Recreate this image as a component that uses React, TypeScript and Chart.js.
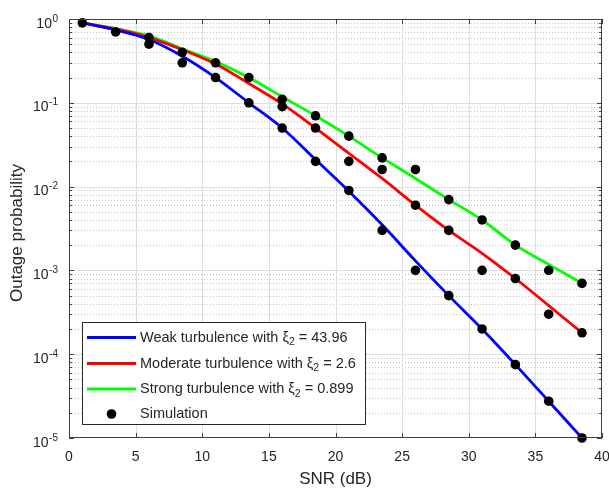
import React, { useEffect, useRef } from "react";
import { Chart, registerables } from "chart.js";

Chart.register(...registerables);

const snr = [1, 3.5, 6, 8.5, 11, 13.5, 16, 18.5, 21, 23.5, 26, 28.5, 31, 33.5, 36, 38.5];
const weak = [0.9, 0.74, 0.57, 0.36, 0.2, 0.1, 0.05, 0.021, 0.0088, 0.0035, 0.0013, 0.0005, 0.0002, 0.000075, 0.0000275, 0.00001];
const moderate = [0.9, 0.76, 0.6, 0.43, 0.29, 0.17, 0.097, 0.05, 0.025, 0.0125, 0.006, 0.003, 0.0016, 0.0008, 0.00038, 0.00018];
const strong = [0.9, 0.77, 0.63, 0.44, 0.31, 0.2, 0.118, 0.07, 0.04, 0.022, 0.0125, 0.007, 0.004, 0.002, 0.00118, 0.0007];

const simX = [1, 3.5, 6, 6, 8.5, 8.5, 11, 11, 13.5, 13.5, 16, 16, 16, 18.5, 18.5, 18.5, 21, 21, 21, 23.5, 23.5, 23.5, 26, 26, 26, 28.5, 28.5, 28.5, 31, 31, 31, 33.5, 33.5, 33.5, 36, 36, 36, 38.5, 38.5, 38.5];
const simY = [0.9, 0.7, 0.6, 0.5, 0.4, 0.3, 0.3, 0.2, 0.2, 0.1, 0.11, 0.09, 0.05, 0.07, 0.05, 0.02, 0.04, 0.02, 0.009, 0.022, 0.016, 0.003, 0.016, 0.006, 0.001, 0.007, 0.003, 0.0005, 0.004, 0.001, 0.0002, 0.002, 0.0008, 0.000075, 0.001, 0.0003, 0.0000275, 0.0007, 0.00018, 0.00001];

const labels = [
  "Weak turbulence with ξ₂ = 43.96",
  "Moderate turbulence with ξ₂ = 2.6",
  "Strong turbulence with ξ₂ = 0.899",
  "Simulation",
];
const xTicks = [0, 5, 10, 15, 20, 25, 30, 35, 40];
const yDecades = [0, -1, -2, -3, -4, -5];
const xTitle = "SNR (dB)";
const yTitle = "Outage probability";

const FONT = "'Liberation Sans', Arial, Helvetica, sans-serif";
const TXT = "#262626";

const drawPlugin = {
  id: "matlabLook",
  beforeDraw(chart: any) {
    const ctx = chart.ctx;
    ctx.save();
    ctx.fillStyle = "#ffffff";
    ctx.fillRect(0, 0, chart.width, chart.height);
    ctx.restore();
  },
  beforeDatasetsDraw(chart: any) {
    const ctx = chart.ctx;
    const a = chart.chartArea;
    const xs = chart.scales.x;
    const ys = chart.scales.y;
    ctx.save();
    ctx.lineWidth = 1;
    ctx.strokeStyle = "#c4c4c4";
    ctx.setLineDash([1, 2]);
    for (let k = -5; k < 0; k++) {
      for (let m = 2; m <= 9; m++) {
        const py = Math.round(ys.getPixelForValue(m * Math.pow(10, k))) + 0.5;
        ctx.beginPath();
        ctx.moveTo(a.left, py);
        ctx.lineTo(a.right, py);
        ctx.stroke();
      }
    }
    ctx.setLineDash([]);
    ctx.strokeStyle = "#dedede";
    for (const d of yDecades) {
      if (d === 0 || d === -5) continue;
      const py = Math.round(ys.getPixelForValue(Math.pow(10, d))) + 0.5;
      ctx.beginPath();
      ctx.moveTo(a.left, py);
      ctx.lineTo(a.right, py);
      ctx.stroke();
    }
    for (const t of xTicks) {
      if (t === 0 || t === 40) continue;
      const px = Math.round(xs.getPixelForValue(t)) + 0.5;
      ctx.beginPath();
      ctx.moveTo(px, a.top);
      ctx.lineTo(px, a.bottom);
      ctx.stroke();
    }
    ctx.restore();
  },
  afterDatasetsDraw(chart: any) {
    const ctx = chart.ctx;
    const a = chart.chartArea;
    const xs = chart.scales.x;
    const ys = chart.scales.y;
    ctx.save();
    ctx.strokeStyle = "#404040";
    ctx.lineWidth = 1;
    ctx.strokeRect(Math.round(a.left) + 0.5, Math.round(a.top) + 0.5, Math.round(a.right - a.left) - 1, Math.round(a.bottom - a.top) - 1);
    ctx.beginPath();
    for (const t of xTicks) {
      const px = Math.round(xs.getPixelForValue(t)) + 0.5;
      ctx.moveTo(px, a.bottom);
      ctx.lineTo(px, a.bottom - 5);
      ctx.moveTo(px, a.top);
      ctx.lineTo(px, a.top + 5);
    }
    for (let k = -5; k <= 0; k++) {
      const py = Math.round(ys.getPixelForValue(Math.pow(10, k))) + 0.5;
      ctx.moveTo(a.left, py);
      ctx.lineTo(a.left + 5, py);
      ctx.moveTo(a.right, py);
      ctx.lineTo(a.right - 5, py);
      if (k < 0) {
        for (let m = 2; m <= 9; m++) {
          const pm = Math.round(ys.getPixelForValue(m * Math.pow(10, k))) + 0.5;
          ctx.moveTo(a.left, pm);
          ctx.lineTo(a.left + 3, pm);
          ctx.moveTo(a.right, pm);
          ctx.lineTo(a.right - 3, pm);
        }
      }
    }
    ctx.stroke();

    ctx.fillStyle = TXT;
    ctx.font = `14px ${FONT}`;
    ctx.textAlign = "center";
    ctx.textBaseline = "middle";
    for (const t of xTicks) {
      ctx.fillText(String(t), xs.getPixelForValue(t), 457);
    }
    for (const d of yDecades) {
      const py = ys.getPixelForValue(Math.pow(10, d));
      const exp = d === 0 ? "0" : "-" + String(-d);
      ctx.font = `10px ${FONT}`;
      ctx.textAlign = "right";
      ctx.textBaseline = "alphabetic";
      const right = 58;
      ctx.fillText(exp, right, py + 2.5);
      const ew = ctx.measureText(exp).width;
      ctx.font = `14px ${FONT}`;
      ctx.fillText("10", right - ew - 0.5, py + 8.5);
    }
    ctx.font = `17px ${FONT}`;
    ctx.textAlign = "center";
    ctx.textBaseline = "middle";
    ctx.fillText(xTitle, (a.left + a.right) / 2, 479);
    ctx.save();
    ctx.translate(17.5, 233);
    ctx.rotate(-Math.PI / 2);
    ctx.fillText(yTitle, 0, 0);
    ctx.restore();

    const lx = 82.5, ly = 322.5, lw = 283, lh = 102;
    ctx.fillStyle = "#ffffff";
    ctx.fillRect(lx, ly, lw, lh);
    ctx.strokeStyle = "#262626";
    ctx.lineWidth = 1;
    ctx.strokeRect(lx, ly, lw, lh);
    const rows = [337.5, 363.5, 389, 414];
    chart.data.datasets.forEach((ds: any, i: number) => {
      const y = rows[i];
      if (ds.showLine === false) {
        ctx.fillStyle = "#000000";
        ctx.beginPath();
        ctx.arc(111.5, y, 4.8, 0, Math.PI * 2);
        ctx.fill();
      } else {
        ctx.strokeStyle = ds.borderColor;
        ctx.lineWidth = 3;
        ctx.beginPath();
        ctx.moveTo(87, y);
        ctx.lineTo(136, y);
        ctx.stroke();
      }
      const parts = String(ds.label).split("₂");
      let x = 140;
      ctx.fillStyle = TXT;
      ctx.textAlign = "left";
      ctx.textBaseline = "middle";
      ctx.font = `14.5px ${FONT}`;
      ctx.fillText(parts[0], x, y);
      x += ctx.measureText(parts[0]).width;
      if (parts.length > 1) {
        ctx.font = `10.5px ${FONT}`;
        ctx.fillText("2", x, y + 5);
        x += ctx.measureText("2").width;
        ctx.font = `14.5px ${FONT}`;
        ctx.fillText(parts[1], x, y);
      }
    });
    ctx.restore();
  },
};

export default function App() {
  const ref = useRef<HTMLCanvasElement | null>(null);
  useEffect(() => {
    if (!ref.current) return;
    const mk = (ys: number[]) => snr.map((x, i) => ({ x, y: ys[i] }));
    const chart = new Chart(ref.current, {
      type: "line",
      data: {
        datasets: [
          { label: labels[0], data: mk(weak), borderColor: "#0000ff", borderWidth: 2.8, pointRadius: 0, cubicInterpolationMode: "monotone", order: 1 } as any,
          { label: labels[1], data: mk(moderate), borderColor: "#ff0000", borderWidth: 2.8, pointRadius: 0, cubicInterpolationMode: "monotone", order: 1 } as any,
          { label: labels[2], data: mk(strong), borderColor: "#00ff00", borderWidth: 2.8, pointRadius: 0, cubicInterpolationMode: "monotone", order: 1 } as any,
          {
            label: labels[3],
            data: simX.map((x, i) => ({ x, y: simY[i] })),
            showLine: false,
            pointRadius: 4.8,
            pointBackgroundColor: "#000000",
            pointBorderColor: "#000000",
            pointBorderWidth: 0,
            borderColor: "#000000",
            clip: false,
            order: 0,
          } as any,
        ],
      },
      options: {
        animation: false,
        responsive: false,
        devicePixelRatio: 1,
        layout: { padding: { left: 69, right: 7, top: 19, bottom: 50 } },
        scales: {
          x: { type: "linear", min: 0, max: 40, display: false },
          y: { type: "logarithmic", min: 1e-5, max: 1, display: false },
        },
        plugins: { legend: { display: false }, tooltip: { enabled: false } },
        events: [],
      },
      plugins: [drawPlugin],
    });
    return () => chart.destroy();
  }, []);
  return (
    <div style={{ position: "fixed", left: 0, top: 0, width: 609, height: 488 }}>
      <canvas ref={ref} width={609} height={488} style={{ width: 609, height: 488, display: "block" }} />
    </div>
  );
}
